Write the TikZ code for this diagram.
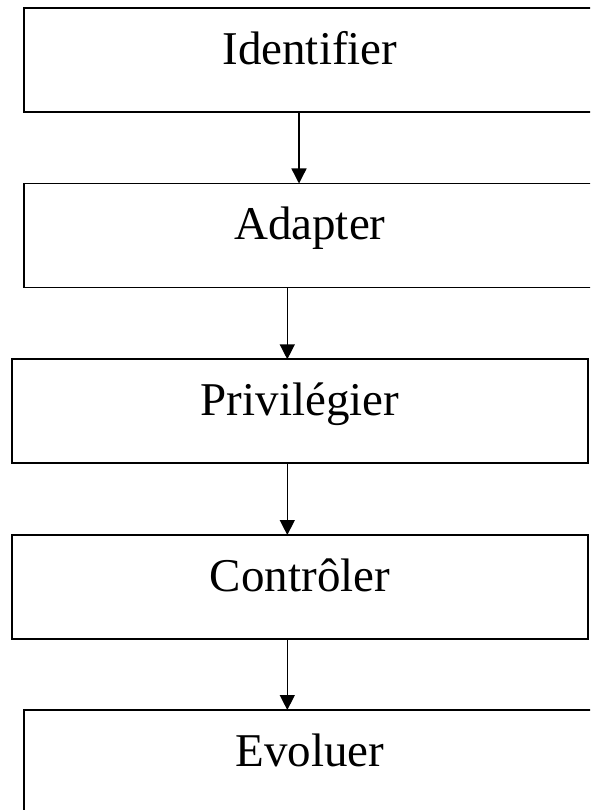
\documentclass[tikz,border=0pt]{standalone}
\usepackage{fontspec}
\setmainfont{Liberation Serif}
\usetikzlibrary{arrows.meta}
\begin{document}
\begin{tikzpicture}[x=1pt,y=-1pt,
  box/.style={draw=black,line width=1.8pt,rectangle,inner sep=0pt,outer sep=0pt,
    anchor=north,minimum width=572.3pt,minimum height=104pt,
    text height=56pt,text depth=48pt,
    font=\fontsize{47}{56}\selectfont},
  narrow/.style={minimum width=575.4pt},
  arr/.style={draw=black,line width=1.4pt,-{Triangle[width=15pt,length=15pt]}}]
\useasboundingbox (0,0) rectangle (590,810);
\clip (0,0) rectangle (590,810);
\fill[white] (0,0) rectangle (590,810);
\node[box] (b1) at (309.85,8.3) {Identifier};
\node[box] (b2) at (309.85,183.5) {Adapter};
\node[box,narrow] (b3) at (300,359.3) {Privilégier};
\node[box,narrow] (b4) at (300,535) {Contrôler};
\node[box] (b5) at (309.85,710) {Evoluer};
\coordinate (c1) at (299,0);
\coordinate (c2) at (287.3,0);
\draw[arr] (b1.south -| c1) -- (b2.north -| c1);
\draw[arr] (b2.south -| c2) -- (b3.north -| c2);
\draw[arr] (b3.south -| c2) -- (b4.north -| c2);
\draw[arr] (b4.south -| c2) -- (b5.north -| c2);
\end{tikzpicture}
\end{document}
